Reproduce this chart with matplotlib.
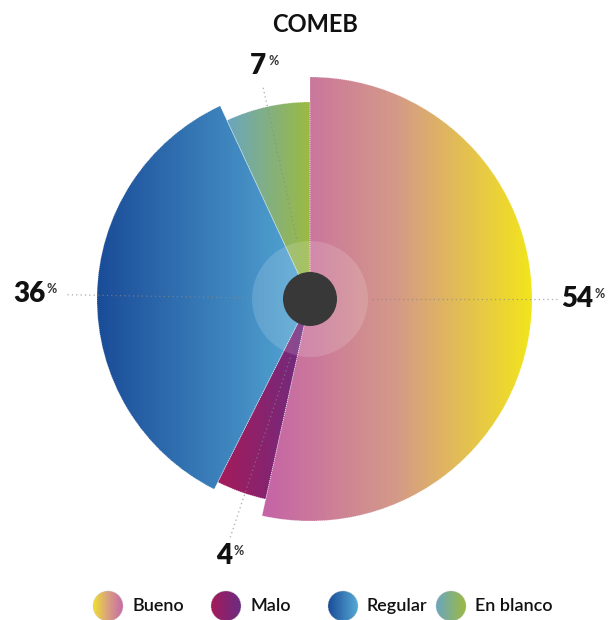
import numpy as np
import matplotlib
matplotlib.use("Agg")
import matplotlib.pyplot as plt
from matplotlib.patches import Wedge, Circle
from matplotlib.colors import LinearSegmentedColormap

# ---- data ----
title = "COMEB"
categories = ["Bueno", "Malo", "Regular", "En blanco"]
values = [54, 4, 36, 7]

# ---- style ----
radii = [222, 205, 213, 197]
gradients = [
    ["#c563a7", "#d49a88", "#f2e51c"],
    ["#a51b5a", "#6b2c82"],
    ["#1a4c98", "#55a9d6"],
    ["#6aa6c0", "#9cba40"],
]
legend_gradients = [
    ["#f0e030", "#d8a080", "#c86aa8"],
    ["#a51b5a", "#6b2c82"],
    ["#1a4c98", "#55a9d6"],
    ["#6aa6c0", "#9cba40"],
]
label_angles = [90, 198.5, 271, 347.5]   # clockwise from top, degrees
label_radius = [267, 271, 281, 239]
leader_out = [247, 252, 245, 218]

plt.rcParams['font.family'] = ['Lato', 'DejaVu Sans']

fig = plt.figure(figsize=(6.1, 6.2), dpi=100)
ax = fig.add_axes([0, 0, 1, 1])
ax.set_xlim(0, 610)
ax.set_ylim(620, 0)
ax.axis("off")

cx, cy = 310, 299
total = sum(values)


def gradient_fill(patch, colors, x0, x1, y0, y1, z):
    cmap = LinearSegmentedColormap.from_list("g", colors)
    grad = np.linspace(0, 1, 256).reshape(1, -1)
    im = ax.imshow(grad, cmap=cmap, extent=(x0, x1, y1, y0), aspect="auto",
                   interpolation="bilinear", zorder=z)
    im.set_clip_path(patch)


start = 0.0
for i, (v, r) in enumerate(zip(values, radii)):
    a0 = -90 + start / total * 360
    a1 = -90 + (start + v) / total * 360
    start += v
    w = Wedge((cx, cy), r, a0, a1, facecolor="none", edgecolor="white",
              linewidth=0.6, linestyle=(0, (1, 1.5)), alpha=0.6, zorder=3)
    ax.add_patch(w)
    ext = w.get_path().get_extents()
    gradient_fill(w, gradients[i], ext.x0, ext.x1, ext.y0, ext.y1, 2)

# inner translucent ring and dark hub
ax.add_patch(Circle((cx, cy), 58, facecolor="white", alpha=0.15,
                    edgecolor="none", zorder=4))
ax.add_patch(Circle((cx, cy), 27, facecolor="#383838", edgecolor="none",
                    zorder=6))

# labels with dotted leaders
for i, v in enumerate(values):
    ang = np.deg2rad(label_angles[i] - 90)
    dx, dy = np.cos(ang), np.sin(ang)
    ax.plot([cx + 62 * dx, cx + leader_out[i] * dx],
            [cy + 62 * dy, cy + leader_out[i] * dy],
            linestyle=(0, (1, 2.5)), color="#888888", linewidth=0.9,
            alpha=0.7, zorder=5)
    lx, ly = cx + label_radius[i] * dx, cy + label_radius[i] * dy
    t = ax.text(lx, ly, f"{v}", fontsize=20, fontweight="heavy",
                color="#111111", ha="center", va="center", zorder=7)
    ax.annotate("%", xy=(1, 0.92), xycoords=t, xytext=(1.2, 0),
                textcoords="offset points", fontsize=9, fontweight="bold",
                color="#333333", ha="left", va="top", zorder=7)

# title
ax.text(cx + 5, 25, title, fontsize=17, fontweight="bold", color="#111111",
        ha="center", va="center")

# legend
leg_x = [108, 226, 343, 451]
leg_y = 606
for i, name in enumerate(categories):
    c = Circle((leg_x[i], leg_y), 15, facecolor="none", edgecolor="#bbbbbb",
               linewidth=0.5, linestyle=(0, (1, 1.5)), zorder=3)
    ax.add_patch(c)
    gradient_fill(c, legend_gradients[i], leg_x[i] - 15, leg_x[i] + 15,
                  leg_y - 15, leg_y + 15, 2)
    ax.text(leg_x[i] + 24, leg_y, name, fontsize=13, fontweight="semibold",
            color="#111111", ha="left", va="center")

fig.savefig("out.png", dpi=100)
